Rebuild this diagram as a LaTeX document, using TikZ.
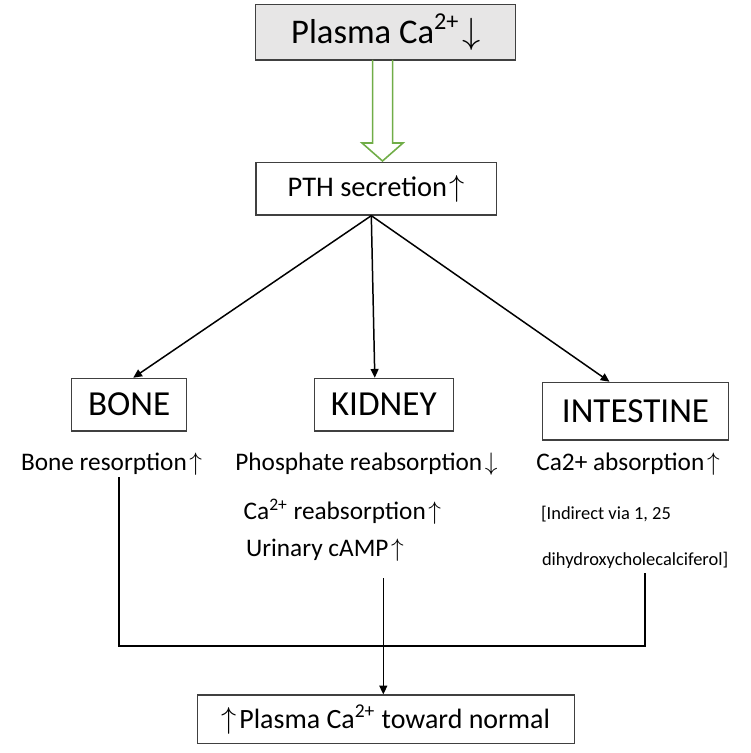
\documentclass[tikz,border=0pt]{standalone}
\usepackage{fontspec}
\setmainfont{Carlito}
\usepackage{tikz}
\usetikzlibrary{arrows.meta,calc}

\definecolor{boxgray}{HTML}{E7E6E6}
\definecolor{arrowgreen}{HTML}{70AD47}
\newcommand{\upar}{\kern1.5pt$\uparrow$}
\newcommand{\dnar}{\kern1.5pt$\downarrow$}

\begin{document}
\begin{tikzpicture}[x=0.02cm,y=-0.02cm]
\tikzstyle{every node}+=[inner sep=0pt]
\tikzstyle{box}=[draw=black!75, line width=0.7pt, align=center]
\tikzstyle{organ}=[box, minimum height=52.7*0.02cm, font=\fontsize{20}{22}\selectfont]
\tikzstyle{lbl}=[anchor=base west, font=\fontsize{14.4}{16}\selectfont]
\tikzstyle{small}=[anchor=base west, font=\fontsize{10.5}{12}\selectfont]
\tikzstyle{conn}=[line width=0.85pt, -{Triangle[length=5pt,width=4.5pt]}]
\useasboundingbox (0,0) rectangle (750,753);
% boxes
\node [box, fill=boxgray, minimum width=260*0.02cm, minimum height=55.7*0.02cm,
  font=\fontsize{19.7}{22}\selectfont] (plasma) at (385.7,32.2) {Plasma Ca\textsuperscript{2+}\dnar};
\node [box, minimum width=240.7*0.02cm, minimum height=52.7*0.02cm,
  font=\fontsize{16.2}{18}\selectfont] (pth) at (376.3,188.7) {PTH secretion\upar};
\node [organ, minimum width=115*0.02cm] (bone) at (129.2,404.7) {BONE};
\node [organ, minimum width=139*0.02cm] (kidney) at (383.8,404.7) {KIDNEY};
\node [organ, minimum width=185.6*0.02cm, minimum height=57.7*0.02cm] (intestine) at (635.5,411.2) {INTESTINE};
\node [box, minimum width=377*0.02cm, minimum height=48.3*0.02cm,
  font=\fontsize{15.9}{18}\selectfont] (result) at (385.8,719.2) {$\uparrow$\kern1.5pt Plasma Ca\textsuperscript{2+} toward normal};
% effects
\node [lbl] (resorb) at (20.7,470) {Bone resorption\upar};
\node [lbl] (phos) at (235,470) {Phosphate reabsorption\dnar};
\node [lbl] (absorb) at (536,470) {Ca2+ absorption\upar};
\node [lbl] (careab) at (243.3,519.3) {Ca\textsuperscript{2+} reabsorption\upar};
\node [lbl] (camp) at (245.7,556.7) {Urinary cAMP\upar};
\node [small] (indirect) at (540.7,519.3) {[Indirect via 1, 25};
\node [small] (dihydroxy) at (541.7,565) {dihydroxycholecalciferol]};
% hollow green arrow
\draw [arrowgreen, line width=0.9pt] (372.7,60) -- (372.7,143) -- (362,143) -- (382.5,161)
  -- (403,143) -- (392.7,143) -- (392.7,60);
% PTH to organs
\draw [conn] ($(pth.south)+(-5,0)$) -- ($(bone.north)+(4,0)$);
\draw [conn] ($(pth.south)+(-5,0)$) -- ($(kidney.north)+(-9,0)$);
\draw [conn] ($(pth.south)+(-5,0)$) -- ($(intestine.north)+(-26,0)$);
% joining lines
\coordinate (boneEnd) at (119,477);
\coordinate (kidEnd) at (383.3,578);
\coordinate (intEnd) at (645,573);
\coordinate (join) at (383.3,646);
\draw [line width=0.6pt] (boneEnd) |- (join) -| (intEnd);
\draw [conn] (kidEnd) -- (kidEnd |- result.north);
\end{tikzpicture}
\end{document}
